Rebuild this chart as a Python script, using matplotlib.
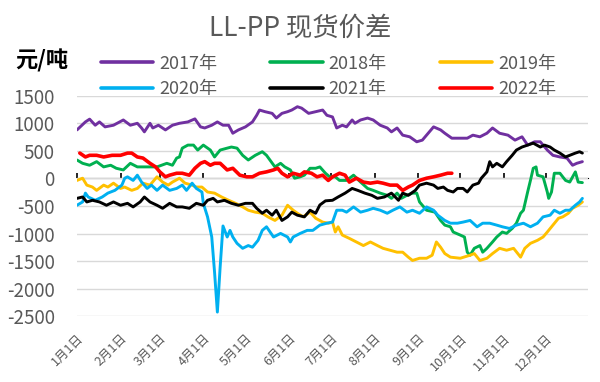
import matplotlib
matplotlib.use("Agg")
import matplotlib.pyplot as plt

plt.rcParams['font.family'] = ['Noto Sans CJK SC', 'DejaVu Sans']
plt.rcParams['axes.unicode_minus'] = False

# 年内天数（1月1日 = 0）与价差（元/吨）
d2017 = [0, 6, 9, 13, 16, 20, 26, 33, 38, 43, 46, 48, 52, 54, 58, 63, 68, 73, 79, 84, 88, 91, 96, 100,
         104, 108, 111, 115, 120, 125, 128, 130, 134, 139, 142, 146, 150, 153, 157, 160, 165, 170, 175,
         178, 182, 185, 189, 192, 196, 198, 202, 207, 211, 216, 221, 224, 228, 232, 237, 242, 246, 249,
         254, 259, 262, 267, 271, 278, 282, 287, 292, 296, 301, 307, 312, 317, 321, 326, 330, 335, 339,
         344, 349, 353, 356, 360]
v2017 = [880, 1025, 1075, 965, 1025, 935, 965, 1060, 965, 1000, 915, 845, 1000, 915, 965, 880, 965, 1000,
         1025, 1080, 935, 915, 965, 1025, 965, 965, 820, 880, 935, 1025, 1145, 1240, 1210, 1180, 1095,
         1180, 1210, 1240, 1300, 1275, 1180, 1210, 1240, 1145, 1115, 915, 965, 935, 1060, 1000, 1060,
         1095, 1060, 965, 915, 845, 915, 785, 755, 665, 695, 785, 935, 880, 820, 730, 730, 730, 785, 755,
         820, 915, 820, 785, 695, 755, 605, 665, 665, 515, 420, 390, 370, 240, 275, 305]

d2018 = [0, 4, 9, 14, 19, 24, 28, 33, 38, 43, 50, 57, 64, 68, 71, 73, 75, 79, 83, 86, 90, 95, 98, 102,
         107, 110, 114, 118, 122, 127, 132, 135, 141, 145, 148, 152, 155, 159, 162, 166, 170, 173, 177,
         180, 184, 187, 192, 197, 202, 207, 211, 216, 221, 224, 228, 231, 235, 239, 242, 244, 249, 255,
         259, 262, 266, 268, 273, 276, 278, 280, 283, 287, 289, 292, 296, 299, 303, 306, 310, 313, 316,
         318, 321, 323, 325, 327, 328, 332, 335, 336, 338, 340, 344, 348, 351, 355, 357, 360]
v2018 = [335, 275, 240, 305, 210, 240, 185, 155, 275, 210, 210, 210, 275, 240, 370, 390, 550, 605, 605,
         515, 605, 515, 390, 515, 550, 570, 550, 420, 335, 420, 485, 420, 210, 275, 210, 155, 5, 30, 60,
         185, 185, 210, 95, 30, 30, -35, -35, 60, -65, -180, -215, -265, -305, -360, -265, -360, -305,
         -265, -265, -425, -575, -610, -760, -845, -875, -970, -1025, -1060, -1335, -1390, -1265, -1215,
         -1335, -1265, -1150, -1060, -970, -995, -905, -810, -630, -575, -245, -35, 185, 210, 60, 30,
         -245, -360, -245, 95, 95, -35, -65, 120, -65, -75]

d2019 = [0, 4, 7, 11, 14, 19, 22, 26, 31, 34, 39, 43, 47, 52, 57, 61, 65, 68, 73, 77, 82, 85, 89, 93,
         98, 103, 108, 113, 118, 122, 127, 132, 136, 141, 146, 150, 154, 157, 161, 166, 170, 175, 179,
         182, 184, 186, 189, 194, 199, 204, 209, 214, 218, 223, 228, 232, 236, 239, 244, 249, 253, 256,
         259, 262, 266, 273, 280, 283, 287, 292, 296, 301, 306, 311, 316, 319, 323, 328, 332, 335, 339,
         343, 346, 350, 353, 357, 360]
v2019 = [-35, 5, -120, -155, -215, -120, -155, -85, -180, -155, -215, -180, -85, -120, 30, -65, -120, -65,
         5, -85, -120, -155, -155, -245, -265, -335, -395, -450, -515, -575, -610, -630, -695, -760, -665,
         -485, -575, -630, -695, -610, -720, -790, -810, -790, -970, -875, -1025, -1085, -1150, -1215,
         -1150, -1215, -1265, -1300, -1335, -1335, -1425, -1485, -1445, -1445, -1390, -1150, -1245,
         -1360, -1425, -1445, -1390, -1360, -1485, -1445, -1360, -1265, -1300, -1265, -1425, -1265,
         -1175, -1120, -1060, -970, -845, -720, -695, -630, -540, -485, -425]

d2020 = [0, 4, 6, 8, 13, 18, 22, 27, 32, 34, 36, 40, 43, 46, 50, 53, 57, 61, 66, 71, 75, 78, 82, 85,
         89, 90, 93, 96, 98, 100, 102, 104, 107, 109, 111, 114, 118, 122, 125, 129, 132, 135, 140, 145,
         150, 152, 154, 159, 164, 168, 173, 178, 182, 185, 189, 192, 197, 202, 207, 211, 216, 221, 225,
         230, 235, 239, 244, 249, 254, 257, 262, 266, 271, 275, 280, 285, 289, 294, 299, 303, 308, 313,
         318, 323, 328, 332, 337, 340, 344, 348, 351, 355, 358, 360]
v2020 = [-485, -425, -265, -335, -395, -335, -265, -215, -120, 5, 30, -35, 60, -65, -180, -120, -215, -120,
         -215, -180, -120, -215, -85, -180, -245, -450, -695, -1060, -1700, -2420, -1595, -860, -1060,
         -940, -1060, -1175, -1265, -1215, -1245, -1120, -940, -875, -1060, -995, -1060, -1150, -1060,
         -995, -940, -940, -845, -810, -790, -575, -575, -610, -515, -610, -575, -540, -575, -630, -575,
         -515, -610, -575, -630, -515, -575, -665, -760, -810, -810, -790, -760, -875, -810, -810, -845,
         -875, -905, -845, -810, -875, -810, -695, -665, -575, -630, -575, -575, -485, -425, -360]

d2021 = [0, 4, 7, 11, 16, 21, 26, 31, 36, 40, 45, 48, 52, 57, 61, 66, 71, 75, 80, 85, 90, 93, 97, 100,
         105, 110, 115, 120, 125, 128, 132, 135, 139, 142, 146, 150, 153, 157, 162, 166, 170, 173, 177,
         182, 186, 191, 196, 200, 205, 210, 214, 219, 224, 229, 232, 236, 241, 244, 249, 254, 257, 261,
         264, 268, 271, 275, 278, 282, 286, 288, 292, 294, 296, 299, 303, 306, 310, 313, 317, 321, 325,
         330, 333, 337, 340, 344, 348, 351, 355, 358, 360]
v2021 = [-360, -335, -425, -395, -425, -485, -425, -485, -450, -515, -425, -335, -425, -485, -540, -450,
         -515, -515, -540, -450, -485, -395, -360, -425, -395, -450, -485, -450, -450, -540, -630, -575,
         -665, -575, -760, -695, -610, -665, -695, -575, -630, -480, -405, -395, -335, -265, -180, -215,
         -265, -305, -360, -335, -265, -395, -265, -305, -215, -120, -85, -120, -180, -155, -215, -245,
         -180, -180, -245, -120, -85, 5, 120, 305, 210, 275, 210, 305, 420, 515, 570, 605, 640, 570, 605,
         570, 515, 460, 390, 420, 460, 485, 460]

d2022 = [2, 6, 9, 14, 19, 25, 31, 36, 39, 43, 47, 52, 56, 59, 63, 66, 71, 75, 80, 84, 88, 91, 95, 98,
         102, 107, 111, 116, 121, 125, 130, 135, 140, 143, 146, 150, 154, 159, 162, 167, 171, 175, 179,
         182, 187, 191, 194, 199, 204, 209, 214, 218, 223, 228, 232, 236, 239, 244, 249, 254, 259, 264,
         267]
v2022 = [460, 390, 420, 420, 390, 420, 420, 460, 460, 390, 370, 275, 210, 120, 30, 60, 95, 95, 60, 185,
         275, 305, 240, 275, 275, 155, 185, 60, 30, 30, 95, 120, 155, 185, 95, 30, 95, 60, 120, 95, 30,
         60, -35, 30, 95, 60, -65, 5, -65, -85, -65, -85, -120, -120, -215, -155, -120, -35, 5, 30, 60,
         95, 95]

series = [("2017年", d2017, v2017, "#7030A0"), ("2018年", d2018, v2018, "#00B050"),
          ("2019年", d2019, v2019, "#FFC000"), ("2020年", d2020, v2020, "#00B0F0"),
          ("2021年", d2021, v2021, "#000000"), ("2022年", d2022, v2022, "#FF0000")]

month_days = [0, 31, 59, 90, 120, 151, 181, 212, 243, 273, 304, 334]
month_labels = [f"{m}月1日" for m in range(1, 13)]
yticks = list(range(-2500, 1501, 500))

GREY = "#595959"
fig = plt.figure(figsize=(6, 3.82), dpi=100)
ax = fig.add_axes([0.1283, 0.1715, 0.8517, 0.578])

for name, d, v, c in series:
    ax.plot(d, v, color=c, lw=2.6 if name == "2022年" else 2.1, label=name,
            solid_joinstyle="round", solid_capstyle="round")

ax.set_xlim(0, 364)
ax.set_ylim(-2500, 1500)
ax.set_yticks(yticks)
ax.tick_params(axis="y", length=0, labelsize=13.5, labelcolor=GREY, pad=16)
ax.yaxis.grid(True, color="#D9D9D9", lw=1.0)
ax.set_axisbelow(True)
for s in ax.spines.values():
    s.set_visible(False)

ax.set_xticks(month_days)
ax.set_xticklabels(month_labels, rotation=45, ha="right", va="top", rotation_mode="anchor")
ax.tick_params(axis="x", length=0, labelsize=9, labelcolor=GREY, pad=11)

# 零轴（带月度刻度）
zero = ax.secondary_xaxis(2500 / 4000)
zero.set_xticks(month_days)
zero.set_xticklabels([])
zero.tick_params(axis="x", direction="out", length=3.5, width=1.2, color="black")
zero.spines["bottom"].set_color("black")
zero.spines["bottom"].set_linewidth(1.5)

fig.text(0.5, 0.925, "LL-PP 现货价差", ha="center", va="center", fontsize=19, color=GREY)
fig.text(0.025, 0.84, "元/吨", ha="left", va="center", fontsize=16, color="black", fontweight="bold")

# 图例按行排列：2017 2018 2019 / 2020 2021 2022
handles, labels = ax.get_legend_handles_labels()
order = [0, 3, 1, 4, 2, 5]
leg = fig.legend([handles[i] for i in order], [labels[i] for i in order], ncol=3, loc="upper left",
                 bbox_to_anchor=(0.168, 0.857), frameon=False, fontsize=13, handlelength=2.9,
                 handletextpad=0.33, columnspacing=2.95, borderpad=0, borderaxespad=0,
                 labelspacing=0.42, labelcolor=GREY)
for h in leg.legend_handles:
    h.set_linewidth(2.6)

fig.savefig("out.png", dpi=100)
